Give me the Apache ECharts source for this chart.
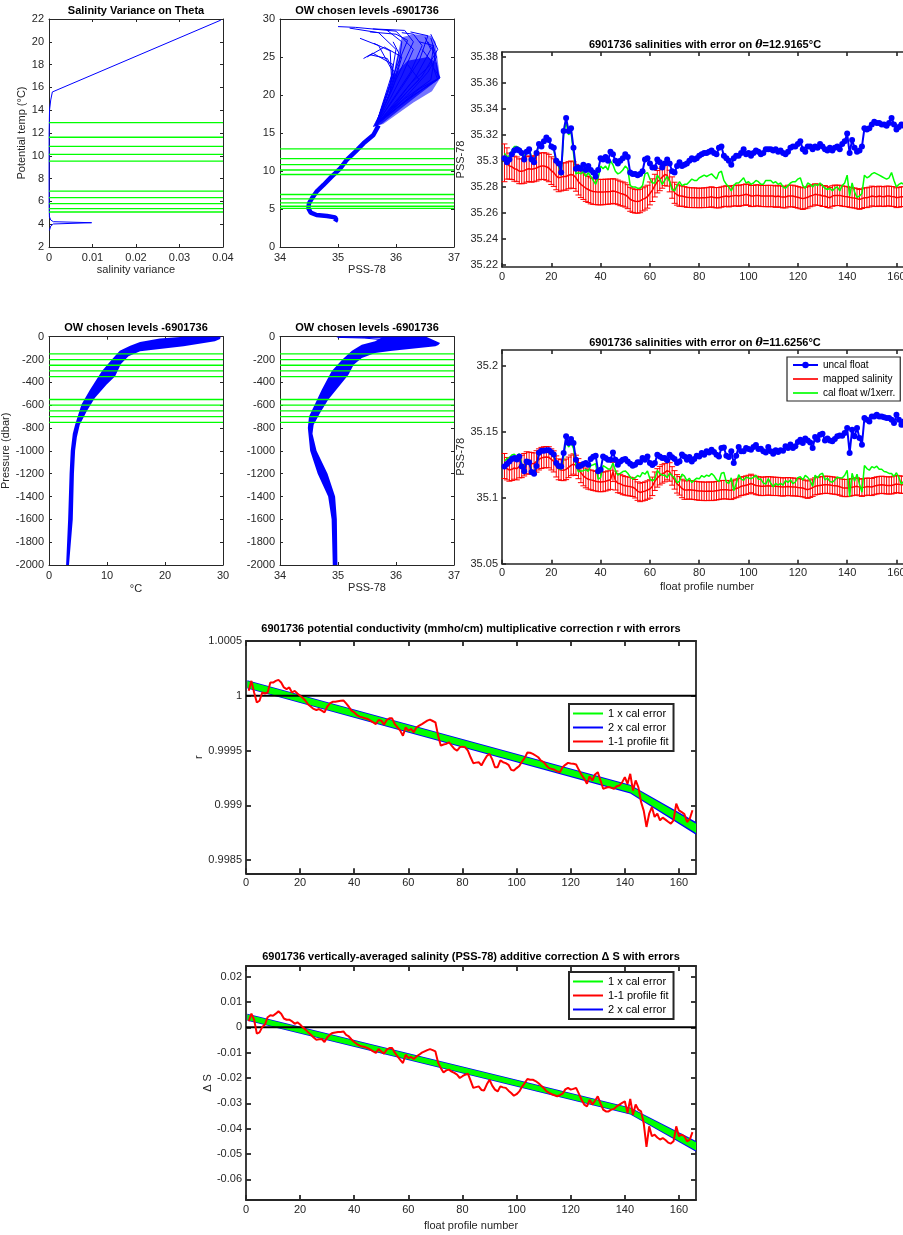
<!DOCTYPE html>
<html><head><meta charset="utf-8">
<script src="https://cdn.jsdelivr.net/npm/echarts@6/dist/echarts.min.js"></script>
<style>html,body{margin:0;padding:0;background:#fff}#c{width:903px;height:1235px}</style>
</head><body><div id="c"></div>
<script>
// ================= DATA =================
const thetaLevels = [12.9165, 11.6256, 10.83, 10.13, 9.54, 6.91, 6.33, 5.80, 5.36, 5.07];
const pressureLevels = [-150, -200, -250, -300, -350, -550, -600, -650, -700, -750];

// Panel 1: salinity variance vs potential temperature
const varianceValues = [0.0395, 0.00077, 0.0004, 0.00012, 0.00003, 0.00002, 0.00003, 0.0001, 0.0004, 0.001, 0.0098, 0.001, 0.0004, 0.0001];
const varianceTheta  = [21.9, 15.6, 14.9, 14.0, 12.0, 8.0, 5.5, 4.66, 4.37, 4.22, 4.13, 4.02, 3.84, 3.45];

// Panel 2: theta-S (salinity, theta)
const tsDeepCurve = [[34.95,3.33],[34.97,3.6],[34.95,3.9],[34.81,4.08],[34.63,4.21],[34.53,4.52],[34.49,5.09],[34.50,5.75],[34.55,6.4],[34.63,7.28],[34.75,8.16],[34.89,9.25],[35.04,10.35],[35.15,11.45],[35.30,12.55],[35.44,13.64],[35.61,14.74],[35.70,16.0]];
const tsFanCore = [[35.6,15.8],[35.75,16.2],[36.3,19.5],[36.76,22.2],[36.7,24.2],[36.55,25.0],[36.2,24.5],[35.95,22.5],[35.85,19.5]];
const tsFanOuter = [[35.6,15.8],[35.78,16.2],[36.3,19.0],[36.62,20.5],[36.76,22.2],[36.72,24.5],[36.68,27.0],[36.6,27.8],[36.3,28.0],[36.1,27.6],[36.0,24.5],[35.93,21.5],[35.82,19.0]];
const tsFanProfiles = [
  [[35.65,16.0],[36.05,18.5],[36.5,21.0],[36.73,22.2],[36.7,24.0],[36.62,26.5]],
  [[35.65,16.0],[36.15,19.5],[36.6,22.0],[36.68,25.5],[36.6,27.5]],
  [[35.65,16.0],[36.0,19.0],[36.35,22.5],[36.6,26.0],[36.5,27.6]],
  [[35.65,16.0],[35.95,19.5],[36.25,23.0],[36.45,26.5],[36.3,28.0],[36.1,28.2]],
  [[35.65,16.0],[35.9,19.5],[36.1,22.5],[36.3,26.0],[36.0,28.4],[35.3,28.9],[35.0,29.0]],
  [[35.65,16.0],[35.88,20.0],[36.05,24.0],[36.1,27.0],[35.84,28.55]],
  [[35.65,16.0],[35.9,20.5],[35.95,24.0],[35.6,25.5],[35.44,24.8]],
  [[35.65,16.0],[35.85,20.0],[35.95,23.0],[35.7,26.5],[35.38,27.46]],
  [[35.65,16.0],[35.95,21.0],[36.1,25.0],[35.8,26.3],[35.5,25.0]],
  [[35.65,16.0],[36.2,20.0],[36.55,23.0],[36.7,25.0],[36.55,27.0]],
  [[35.65,16.0],[36.3,20.0],[36.72,22.0],[36.6,24.5],[36.45,26.0]],
  [[35.65,16.0],[36.1,21.0],[36.4,24.5],[36.55,27.8],[36.25,28.3]],
  [[35.65,16.0],[35.92,18.0],[36.2,20.5],[36.4,22.0],[36.2,24.0]],
  [[35.65,16.0],[35.9,21.5],[36.0,26.0],[35.7,28.2],[35.2,28.8]],
  [[35.65,16.0],[36.0,22.0],[36.3,27.0],[36.15,28.5],[35.6,28.7]],
  [[35.65,16.0],[36.4,20.8],[36.76,22.3],[36.65,23.5]],
  [[35.65,16.0],[35.95,22.0],[36.05,25.5],[35.95,27.0]],
  [[35.65,16.0],[36.25,21.5],[36.6,24.0],[36.65,26.5],[36.4,27.0]],
  [[35.65,16.0],[35.92,22.5],[35.9,25.8],[35.62,26.8]],
  [[35.65,16.0],[36.0,23.5],[36.2,27.2],[36.0,28.0],[35.55,28.3]],
  [[35.65,16.0],[36.45,22.5],[36.72,26.0],[36.6,28.0]],
  [[35.65,16.0],[35.97,23.0],[35.85,24.8],[35.55,25.3]]
];

// Panel 4: temperature vs pressure envelope of all profiles
const ptBand = [[2.95,-2000],[3.3,-1600],[3.55,-1200],[3.75,-1000],[4.1,-850],[4.5,-771],[5.6,-595],[7.07,-464],[9.1,-303],[10.8,-201],[12.2,-122],[14.0,-80],[15.7,-46],[19.1,-15],[23.2,0],[29.6,0],[29.5,-20],[28.6,-40],[23.2,-84],[15.7,-128],[13.7,-172],[12.4,-240],[11.4,-347],[9.9,-420],[7.9,-537],[6.5,-654],[5.3,-771],[4.8,-880],[4.5,-1000],[4.3,-1200],[4.1,-1600],[3.45,-2000]];

// Panel 5: salinity vs pressure envelope
const psBand = [[34.91,-2000],[34.89,-1600],[34.83,-1400],[34.65,-1200],[34.52,-1000],[34.48,-800],[34.5,-700],[34.6,-595],[34.72,-464],[34.89,-303],[35.07,-201],[35.24,-122],[35.41,-70],[35.64,-40],[35.78,0],[36.52,0],[36.76,-55],[36.73,-72],[36.68,-84],[35.9,-125],[35.64,-143],[35.41,-187],[35.27,-245],[35.18,-333],[35.04,-420],[34.83,-552],[34.69,-668],[34.58,-771],[34.56,-850],[34.63,-1000],[34.82,-1200],[34.95,-1400],[34.98,-1600],[34.99,-2000]];
const psSurfaceLines = [
  [[34.98,-3],[35.4,-5],[35.85,-12]],
  [[35.0,-6],[35.45,-12],[35.75,-25]],
  [[35.05,-1],[35.6,-3],[35.9,-8]]
];

// Panel 3: theta = 12.9165
const uncal3 = [35.302,35.299,35.301,35.305,35.308,35.309,35.308,35.306,35.301,35.307,
35.309,35.301,35.299,35.306,35.313,35.311,35.315,35.318,35.316,35.311,
35.310,35.300,35.298,35.291,35.323,35.333,35.323,35.325,35.310,35.294,
35.295,35.294,35.297,35.293,35.296,35.293,35.291,35.288,35.293,35.302,
35.301,35.303,35.300,35.307,35.305,35.300,35.298,35.300,35.302,35.305,
35.303,35.291,35.290,35.290,35.289,35.290,35.292,35.301,35.302,35.298,
35.295,35.295,35.301,35.299,35.295,35.298,35.301,35.298,35.292,35.291,
35.296,35.299,35.296,35.297,35.298,35.300,35.302,35.301,35.302,35.304,
35.305,35.306,35.306,35.307,35.308,35.306,35.305,35.310,35.311,35.304,
35.302,35.300,35.297,35.302,35.304,35.304,35.306,35.309,35.305,35.306,
35.304,35.306,35.308,35.307,35.305,35.306,35.309,35.309,35.309,35.308,
35.309,35.307,35.308,35.306,35.305,35.307,35.310,35.311,35.311,35.313,
35.315,35.309,35.307,35.311,35.311,35.309,35.311,35.310,35.313,35.311,
35.309,35.308,35.310,35.308,35.310,35.311,35.309,35.313,35.315,35.321,
35.306,35.316,35.310,35.307,35.308,35.311,35.325,35.324,35.325,35.328,
35.330,35.329,35.329,35.328,35.328,35.327,35.329,35.333,35.328,35.324,
35.326,35.328,35.327,35.329,35.328];
const cal3 = [35.306,35.303,35.304,35.308,35.311,35.311,35.310,35.308,35.303,35.308,
35.310,35.302,35.300,35.306,35.313,35.311,35.315,35.317,35.315,35.310,
35.309,35.298,35.296,35.289,35.320,35.330,35.320,35.322,35.306,35.290,
35.291,35.290,35.292,35.288,35.291,35.288,35.285,35.282,35.287,35.296,
35.294,35.296,35.293,35.300,35.297,35.292,35.290,35.291,35.293,35.296,
35.294,35.281,35.280,35.280,35.279,35.279,35.281,35.290,35.291,35.286,
35.283,35.283,35.289,35.286,35.282,35.285,35.288,35.284,35.278,35.277,
35.281,35.284,35.281,35.282,35.282,35.284,35.286,35.285,35.285,35.287,
35.288,35.289,35.288,35.289,35.290,35.288,35.286,35.291,35.292,35.285,
35.282,35.280,35.277,35.281,35.283,35.283,35.285,35.287,35.283,35.284,
35.282,35.283,35.285,35.284,35.282,35.282,35.285,35.285,35.285,35.283,
35.284,35.282,35.283,35.280,35.279,35.281,35.283,35.284,35.284,35.286,
35.287,35.281,35.279,35.283,35.282,35.280,35.282,35.281,35.283,35.281,
35.279,35.278,35.279,35.277,35.279,35.280,35.277,35.281,35.283,35.289,
35.273,35.283,35.276,35.272,35.273,35.275,35.289,35.287,35.288,35.290,
35.291,35.290,35.289,35.288,35.287,35.286,35.287,35.291,35.285,35.280,
35.282,35.283,35.282,35.283,35.282];
const mapped3 = [35.2985,35.298,35.296,35.2955,35.294,35.2935,35.292,35.292,35.2925,35.2935,
35.294,35.2935,35.294,35.2945,35.2955,35.296,35.296,35.2955,35.2945,35.2925,
35.291,35.2885,35.287,35.2875,35.288,35.288,35.289,35.2895,35.289,35.287,
35.284,35.282,35.2805,35.279,35.278,35.277,35.2765,35.2763,35.276,35.276,
35.276,35.2763,35.2763,35.2765,35.2768,35.2765,35.2758,35.275,35.2745,35.2738,
35.2725,35.2705,35.2695,35.269,35.2688,35.2692,35.2704,35.2712,35.2725,35.275,
35.2775,35.281,35.284,35.2857,35.2875,35.2895,35.289,35.2845,35.2795,35.2755,
35.274,35.273,35.273,35.2725,35.272,35.2718,35.2717,35.2717,35.2716,35.2715,
35.2716,35.2717,35.2718,35.272,35.2724,35.2718,35.2717,35.2717,35.2722,35.2727,
35.273,35.2725,35.273,35.2732,35.2735,35.273,35.2735,35.2738,35.2743,35.2738,
35.273,35.273,35.2735,35.2735,35.273,35.273,35.273,35.273,35.273,35.273,
35.2725,35.273,35.2725,35.2722,35.2722,35.273,35.273,35.273,35.2725,35.272,
35.2715,35.271,35.2715,35.272,35.273,35.2735,35.2743,35.274,35.2738,35.273,
35.273,35.2722,35.2717,35.273,35.2735,35.2735,35.2735,35.273,35.2727,35.2725,
35.272,35.2717,35.2715,35.271,35.2704,35.271,35.2717,35.2717,35.2722,35.273,
35.2727,35.2725,35.273,35.2727,35.2725,35.273,35.273,35.2727,35.2725,35.2717,
35.272,35.2725,35.2725,35.273,35.273];
const mappedErr3 = [0.0145,0.0120,0.0100,0.0098,0.0096,0.0095,0.0095,0.0096,0.0097,0.0098,
0.0098,0.0099,0.0100,0.0100,0.0101,0.0102,0.0103,0.0104,0.0105,0.0106,
0.0106,0.0107,0.0107,0.0106,0.0105,0.0105,0.0104,0.0104,0.0103,0.0103,
0.0102,0.0102,0.0101,0.0101,0.0100,0.0100,0.0099,0.0099,0.0098,0.0098,
0.0097,0.0097,0.0096,0.0096,0.0095,0.0095,0.0094,0.0094,0.0093,0.0093,
0.0092,0.0092,0.0091,0.0091,0.0090,0.0090,0.0089,0.0089,0.0088,0.0088,
0.0087,0.0087,0.0086,0.0086,0.0085,0.0085,0.0084,0.0083,0.0082,0.0081,
0.0080,0.0079,0.0078,0.0077,0.0077,0.0076,0.0076,0.0076,0.0075,0.0075,
0.0075,0.0076,0.0076,0.0077,0.0077,0.0077,0.0078,0.0078,0.0078,0.0078,
0.0079,0.0079,0.0079,0.0079,0.0080,0.0080,0.0080,0.0080,0.0080,0.0080,
0.0081,0.0081,0.0081,0.0081,0.0081,0.0081,0.0082,0.0082,0.0082,0.0082,
0.0082,0.0082,0.0082,0.0083,0.0083,0.0083,0.0083,0.0083,0.0083,0.0083,
0.0083,0.0083,0.0082,0.0082,0.0082,0.0082,0.0081,0.0081,0.0081,0.0080,
0.0080,0.0080,0.0079,0.0079,0.0079,0.0078,0.0078,0.0078,0.0078,0.0077,
0.0077,0.0077,0.0077,0.0077,0.0076,0.0076,0.0076,0.0076,0.0076,0.0076,
0.0076,0.0076,0.0076,0.0076,0.0076,0.0076,0.0076,0.0076,0.0076,0.0076,
0.0076,0.0076,0.0076,0.0076,0.0076];

// Panel 6: theta = 11.6256
const uncal6 = [35.1237,35.1255,35.1275,35.1293,35.1300,35.1290,35.1313,35.1237,35.1200,35.1275,
35.1268,35.1195,35.1182,35.1240,35.1340,35.1355,35.1356,35.1359,35.1359,35.1345,
35.1328,35.1263,35.1240,35.1237,35.1338,35.1465,35.1414,35.1444,35.1414,35.1288,
35.1237,35.1242,35.1255,35.1263,35.1250,35.1293,35.1310,35.1318,35.1200,35.1212,
35.1313,35.1301,35.1288,35.1288,35.1343,35.1288,35.1250,35.1275,35.1288,35.1293,
35.1275,35.1258,35.1242,35.1250,35.1268,35.1268,35.1301,35.1288,35.1313,35.1263,
35.1247,35.1263,35.1326,35.1313,35.1301,35.1301,35.1283,35.1326,35.1306,35.1293,
35.1263,35.1275,35.1328,35.1313,35.1288,35.1308,35.1275,35.1293,35.1318,35.1313,
35.1338,35.1326,35.1351,35.1343,35.1364,35.1346,35.1326,35.1313,35.1376,35.1381,
35.1318,35.1308,35.1351,35.1263,35.1318,35.1384,35.1351,35.1351,35.1376,35.1369,
35.1364,35.1384,35.1399,35.1369,35.1371,35.1351,35.1343,35.1384,35.1351,35.1333,
35.1359,35.1346,35.1359,35.1356,35.1389,35.1376,35.1404,35.1376,35.1389,35.1422,
35.1439,35.1414,35.1449,35.1434,35.1419,35.1376,35.1460,35.1439,35.1477,35.1485,
35.1434,35.1449,35.1434,35.1427,35.1444,35.1465,35.1472,35.1470,35.1490,35.1528,
35.1338,35.1515,35.1465,35.1528,35.1452,35.1402,35.1604,35.1591,35.1578,35.1616,
35.1616,35.1629,35.1616,35.1616,35.1609,35.1604,35.1604,35.1591,35.1566,35.1629,
35.1591,35.1553,35.1578,35.1590,35.1580];
const cal6 = [35.1277,35.1295,35.1305,35.1323,35.1330,35.1310,35.1333,35.1257,35.1220,35.1285,
35.1278,35.1205,35.1192,35.1240,35.1340,35.1355,35.1356,35.1349,35.1349,35.1335,
35.1318,35.1243,35.1220,35.1217,35.1308,35.1435,35.1384,35.1414,35.1374,35.1248,
35.1197,35.1202,35.1205,35.1213,35.1200,35.1243,35.1250,35.1258,35.1140,35.1152,
35.1243,35.1231,35.1218,35.1218,35.1263,35.1208,35.1170,35.1185,35.1198,35.1203,
35.1185,35.1158,35.1142,35.1150,35.1168,35.1158,35.1191,35.1178,35.1203,35.1143,
35.1127,35.1143,35.1206,35.1183,35.1171,35.1171,35.1153,35.1186,35.1166,35.1153,
35.1113,35.1125,35.1178,35.1163,35.1128,35.1148,35.1115,35.1133,35.1148,35.1143,
35.1168,35.1156,35.1171,35.1163,35.1184,35.1166,35.1136,35.1123,35.1186,35.1191,
35.1118,35.1108,35.1151,35.1053,35.1108,35.1174,35.1141,35.1131,35.1156,35.1149,
35.1144,35.1154,35.1169,35.1139,35.1141,35.1111,35.1103,35.1144,35.1111,35.1083,
35.1109,35.1096,35.1109,35.1096,35.1129,35.1116,35.1134,35.1106,35.1119,35.1152,
35.1159,35.1134,35.1169,35.1154,35.1129,35.1086,35.1170,35.1149,35.1177,35.1185,
35.1134,35.1149,35.1124,35.1117,35.1134,35.1155,35.1152,35.1150,35.1170,35.1208,
35.1008,35.1185,35.1125,35.1178,35.1102,35.1042,35.1244,35.1221,35.1208,35.1236,
35.1226,35.1239,35.1216,35.1216,35.1199,35.1194,35.1184,35.1184,35.1161,35.1189,
35.1151,35.1103,35.1128,35.1130,35.1120];
const mapped6 = [35.124,35.122,35.121,35.1215,35.1225,35.122,35.1235,35.1237,35.125,35.1263,
35.1263,35.126,35.1258,35.1275,35.129,35.1301,35.1306,35.1308,35.1306,35.129,
35.1275,35.1237,35.1215,35.121,35.1207,35.1215,35.123,35.1245,35.1255,35.1245,
35.122,35.119,35.1165,35.115,35.114,35.1135,35.113,35.1125,35.112,35.1119,
35.112,35.1124,35.113,35.1136,35.1195,35.113,35.111,35.1105,35.1095,35.109,
35.1086,35.1084,35.108,35.1068,35.105,35.104,35.1045,35.105,35.1058,35.1066,
35.1086,35.1125,35.115,35.1167,35.118,35.119,35.1205,35.1195,35.1165,35.1135,
35.1105,35.109,35.107,35.1058,35.1058,35.106,35.1058,35.1056,35.1053,35.105,
35.105,35.1048,35.1048,35.105,35.1048,35.105,35.1053,35.1056,35.106,35.1061,
35.1061,35.1058,35.1056,35.1063,35.107,35.1076,35.1086,35.109,35.1095,35.11,
35.1108,35.11,35.1093,35.109,35.1086,35.1086,35.1088,35.109,35.1088,35.1086,
35.1086,35.1085,35.1083,35.1081,35.1083,35.1085,35.1083,35.1081,35.1081,35.1078,
35.1076,35.1073,35.1066,35.1061,35.1068,35.1076,35.1086,35.109,35.1093,35.1096,
35.1098,35.1098,35.1096,35.1093,35.1091,35.1088,35.1083,35.1076,35.1073,35.1073,
35.1076,35.108,35.1083,35.1086,35.108,35.1075,35.108,35.1084,35.1083,35.1081,
35.1088,35.1093,35.1096,35.1098,35.1096,35.1093,35.1093,35.1093,35.1098,35.1104,
35.1101,35.1098,35.1098,35.1098,35.1098];
const mappedErr6 = [0.0095,0.0085,0.0085,0.0085,0.0085,0.0085,0.0085,0.0085,0.0085,0.0085,
0.0082,0.0082,0.0081,0.0081,0.0080,0.0080,0.0080,0.0080,0.0080,0.0080,
0.0080,0.0080,0.0079,0.0079,0.0078,0.0078,0.0078,0.0078,0.0077,0.0077,
0.0076,0.0076,0.0075,0.0075,0.0075,0.0075,0.0075,0.0074,0.0074,0.0074,
0.0074,0.0073,0.0073,0.0073,0.0073,0.0072,0.0072,0.0072,0.0072,0.0071,
0.0071,0.0071,0.0071,0.0070,0.0070,0.0070,0.0070,0.0070,0.0070,0.0070,
0.0070,0.0070,0.0070,0.0070,0.0070,0.0070,0.0070,0.0070,0.0070,0.0070,
0.0070,0.0070,0.0070,0.0070,0.0070,0.0070,0.0070,0.0070,0.0070,0.0070,
0.0070,0.0070,0.0070,0.0070,0.0070,0.0070,0.0070,0.0070,0.0070,0.0070,
0.0070,0.0070,0.0070,0.0070,0.0070,0.0070,0.0070,0.0070,0.0070,0.0070,
0.0070,0.0070,0.0070,0.0070,0.0070,0.0070,0.0070,0.0070,0.0070,0.0070,
0.0069,0.0069,0.0069,0.0069,0.0068,0.0068,0.0068,0.0068,0.0067,0.0067,
0.0067,0.0067,0.0066,0.0066,0.0066,0.0066,0.0065,0.0065,0.0065,0.0065,
0.0065,0.0065,0.0065,0.0065,0.0065,0.0065,0.0065,0.0065,0.0065,0.0065,
0.0065,0.0065,0.0065,0.0065,0.0065,0.0065,0.0065,0.0065,0.0065,0.0065,
0.0065,0.0065,0.0065,0.0065,0.0065,0.0065,0.0065,0.0065,0.0065,0.0065,
0.0065,0.0065,0.0065,0.0065,0.0065];

// Panel 7: multiplicative correction r
const rProfileFit = [1.000045,1.000136,1.000030,0.999939,0.999955,1.000030,1.000021,1.000030,1.000121,1.000121,
1.000136,1.000145,1.000121,1.000076,1.000061,1.000076,1.000030,1.000045,1.000021,1.000000,
0.999980,0.999955,0.999920,0.999900,0.999880,0.999870,0.999879,0.999864,0.999848,0.999900,
0.999930,0.999945,0.999945,0.999950,0.999955,0.999958,0.999930,0.999900,0.999864,0.999848,
0.999824,0.999810,0.999803,0.999795,0.999788,0.999773,0.999758,0.999742,0.999779,0.999773,
0.999735,0.999779,0.999794,0.999794,0.999742,0.999712,0.999682,0.999636,0.999712,0.999682,
0.999697,0.999667,0.999712,0.999727,0.999742,0.999758,0.999773,0.999782,0.999770,0.999758,
0.999636,0.999545,0.999555,0.999561,0.999576,0.999545,0.999515,0.999500,0.999530,0.999536,
0.999530,0.999500,0.999439,0.999385,0.999390,0.999394,0.999364,0.999409,0.999450,0.999470,
0.999420,0.999348,0.999348,0.999410,0.999394,0.999385,0.999370,0.999324,0.999318,0.999340,
0.999360,0.999400,0.999433,0.999482,0.999480,0.999470,0.999455,0.999439,0.999409,0.999394,
0.999364,0.999340,0.999333,0.999325,0.999310,0.999303,0.999348,0.999370,0.999388,0.999382,
0.999379,0.999373,0.999324,0.999280,0.999242,0.999197,0.999264,0.999227,0.999282,0.999303,
0.999227,0.999152,0.999160,0.999167,0.999160,0.999152,0.999175,0.999182,0.999210,0.999258,
0.999197,0.999288,0.999136,0.999227,0.999167,0.999030,0.998950,0.998803,0.998924,0.998985,
0.998894,0.998924,0.998864,0.998888,0.998870,0.998850,0.998833,0.998864,0.999015,0.998955,
0.998939,0.998920,0.998848,0.998879,0.998955];
const rCalProfiles = [0.5, 142, 166.3];
const rCalFit = [1.000104, 0.999149, 0.998790];
const rCalErr1 = [0.000030, 0.000030, 0.000042];
const rCalErr2 = [0.000038, 0.000040, 0.000058];
const rReference = 1;

// Panel 8: additive correction delta S
const dsProfileFit = [0.0024,0.0054,0.0030,-0.0025,-0.0020,0.0001,0.0011,0.0040,0.0048,0.0046,
0.0054,0.0063,0.0054,0.0035,0.0030,0.0030,0.0024,0.0014,0.0020,0.0011,
0.0000,-0.0009,-0.0020,-0.0029,-0.0040,-0.0049,-0.0047,-0.0046,-0.0058,-0.0040,
-0.0029,-0.0022,-0.0020,-0.0018,-0.0018,-0.0016,-0.0030,-0.0036,-0.0048,-0.0058,
-0.0066,-0.0072,-0.0076,-0.0078,-0.0082,-0.0088,-0.0095,-0.0101,-0.0086,-0.0095,
-0.0104,-0.0088,-0.0082,-0.0082,-0.0100,-0.0115,-0.0128,-0.0141,-0.0108,-0.0121,
-0.0117,-0.0125,-0.0115,-0.0108,-0.0100,-0.0095,-0.0090,-0.0086,-0.0090,-0.0095,
-0.0140,-0.0161,-0.0178,-0.0170,-0.0167,-0.0175,-0.0180,-0.0187,-0.0200,-0.0193,
-0.0187,-0.0183,-0.0210,-0.0239,-0.0236,-0.0233,-0.0247,-0.0249,-0.0225,-0.0207,
-0.0230,-0.0246,-0.0253,-0.0233,-0.0237,-0.0239,-0.0250,-0.0259,-0.0270,-0.0264,
-0.0253,-0.0235,-0.0220,-0.0204,-0.0207,-0.0207,-0.0212,-0.0220,-0.0230,-0.0239,
-0.0252,-0.0259,-0.0264,-0.0268,-0.0272,-0.0268,-0.0262,-0.0245,-0.0239,-0.0246,
-0.0243,-0.0239,-0.0262,-0.0286,-0.0305,-0.0312,-0.0286,-0.0305,-0.0290,-0.0272,
-0.0300,-0.0325,-0.0332,-0.0332,-0.0325,-0.0322,-0.0312,-0.0305,-0.0298,-0.0292,
-0.0338,-0.0283,-0.0345,-0.0305,-0.0325,-0.0332,-0.0380,-0.0472,-0.0391,-0.0430,
-0.0424,-0.0435,-0.0443,-0.0437,-0.0445,-0.0455,-0.0459,-0.0450,-0.0391,-0.0430,
-0.0424,-0.0430,-0.0450,-0.0443,-0.0414];
const dsCalProfiles = [0.5, 142, 166.3];
const dsCalFit = [0.0040, -0.0330, -0.0470];
const dsCalErr1 = [0.0011, 0.0011, 0.0016];
const dsCalErr2 = [0.0014, 0.0014, 0.0021];
const dsReference = 0;

// Tick labels
const ticksVariance = [0, 0.01, 0.02, 0.03, 0.04];
const ticksTheta1 = [2, 4, 6, 8, 10, 12, 14, 16, 18, 20, 22];
const ticksSal = [34, 35, 36, 37];
const ticksTheta2 = [0, 5, 10, 15, 20, 25, 30];
const ticksTemp = [0, 10, 20, 30];
const ticksPres = [-2000, -1800, -1600, -1400, -1200, -1000, -800, -600, -400, -200, 0];
const ticksProfile = [0, 20, 40, 60, 80, 100, 120, 140, 160];
const ticksS3 = [35.22, 35.24, 35.26, 35.28, 35.3, 35.32, 35.34, 35.36, 35.38];
const ticksS6 = [35.05, 35.1, 35.15, 35.2];
const ticksR = [0.9985, 0.999, 0.9995, 1, 1.0005];
const ticksDS = [-0.06, -0.05, -0.04, -0.03, -0.02, -0.01, 0, 0.01, 0.02];

// Axis limits (frame extents)
const limVariance = [0, 0.04], limTheta1 = [2, 22];
const limSal = [34, 37], limTheta2 = [0, 30];
const limTemp = [0, 30], limPres = [-2000, 0];
const limProfile = [0, 166.3];
const limS3 = [35.2185, 35.3836];
const limS6 = [35.05, 35.2119];
const limR = [0.99838, 1.0005];
const limDS = [-0.06817, 0.02422];

// ================= BUILD =================
const FONT = '"Liberation Sans", Arial, Helvetica, sans-serif';
const AX = '#262626';
const BLUE = '#0000ff', GREEN = '#00ff00', RED = '#ff0000';
const LINE_ICON = 'path://M0,0H30V2H0Z';
const option = { animation: false, backgroundColor: '#ffffff', grid: [], xAxis: [], yAxis: [], series: [], legend: [], graphic: [] };

function fmt(v) { return String(parseFloat(Number(v).toFixed(6))); }

function axisDef(g, lim, ticks, pos, showLabel, name, gap, lw, tl, margin) {
  return {
    gridIndex: g, type: 'value', position: pos, min: lim[0], max: lim[1],
    name: name || '', nameLocation: 'middle', nameGap: gap || 0,
    nameTextStyle: { fontSize: 11, fontFamily: FONT, color: AX },
    axisLine: { show: true, onZero: false, lineStyle: { color: AX, width: lw } },
    axisTick: { show: true, inside: true, length: tl, customValues: ticks, lineStyle: { color: AX, width: lw } },
    axisLabel: { show: showLabel, customValues: ticks, formatter: fmt, fontSize: 11, fontFamily: FONT, color: AX, margin: margin || 4 },
    splitLine: { show: false }, minorTick: { show: false }, minorSplitLine: { show: false }
  };
}

function panel(p) {
  const g = option.grid.length;
  option.grid.push({ left: p.l, top: p.t, width: p.w, height: p.h, show: false, containLabel: false, outerBoundsMode: 'none' });
  const lw = p.lw || 1, tl = p.tl || 3;
  const xi = option.xAxis.length;
  option.xAxis.push(axisDef(g, p.xl, p.xt, 'bottom', true, p.xName, p.xGap, lw, tl, p.xm || 5));
  option.xAxis.push(axisDef(g, p.xl, p.xt, 'top', false, '', 0, lw, tl));
  const yi = option.yAxis.length;
  option.yAxis.push(axisDef(g, p.yl, p.yt, 'left', true, p.yName, p.yGap, lw, tl, p.ym || 5));
  option.yAxis.push(axisDef(g, p.yl, p.yt, 'right', false, '', 0, lw, tl));
  option.graphic.push({ type: 'text', x: p.tx, y: p.ty, silent: true, style: {
    text: p.title, align: 'center', verticalAlign: 'middle', fill: '#000', fontSize: 11, fontWeight: 'bold', fontFamily: FONT,
    rich: { i: { fontStyle: 'italic', fontWeight: 'bold', fontSize: 11, fontFamily: '"DejaVu Serif", serif', fill: '#000' } } } });
  return { xAxisIndex: xi, yAxisIndex: yi };
}

function line(ax, data, color, width, extra) {
  return Object.assign({ type: 'line', xAxisIndex: ax.xAxisIndex, yAxisIndex: ax.yAxisIndex, data: data,
    symbol: 'none', showSymbol: false, silent: true, lineStyle: { color: color, width: width }, itemStyle: { color: color } }, extra || {});
}

function polygon(ax, pts, fill) {
  return { type: 'custom', xAxisIndex: ax.xAxisIndex, yAxisIndex: ax.yAxisIndex, data: pts, silent: true,
    encode: { x: 0, y: 1 },
    renderItem: function (params, api) {
      if (params.dataIndex !== 0) return null;
      return { type: 'polygon', shape: { points: pts.map(function (p) { return api.coord(p); }) }, style: { fill: fill } };
    } };
}

function band(ax, xs, mid, err, fill) {
  const upper = xs.map(function (x, i) { return [x, mid[i] + err[i]]; });
  const lower = xs.map(function (x, i) { return [x, mid[i] - err[i]]; }).reverse();
  return polygon(ax, upper.concat(lower), fill);
}

function errorbars(ax, vals, errs, color, cap) {
  const data = vals.map(function (v, i) { return [i + 1, v, errs[i]]; });
  return { type: 'custom', xAxisIndex: ax.xAxisIndex, yAxisIndex: ax.yAxisIndex, data: data, silent: true,
    encode: { x: 0, y: 1 },
    renderItem: function (params, api) {
      const x = api.value(0), y = api.value(1), e = api.value(2);
      const a = api.coord([x, y + e]), b = api.coord([x, y - e]);
      return { type: 'group', children: [
        { type: 'line', shape: { x1: a[0], y1: a[1], x2: b[0], y2: b[1] }, style: { stroke: color, lineWidth: 1 } },
        { type: 'line', shape: { x1: a[0] - cap, y1: a[1], x2: a[0] + cap, y2: a[1] }, style: { stroke: color, lineWidth: 1 } },
        { type: 'line', shape: { x1: b[0] - cap, y1: b[1], x2: b[0] + cap, y2: b[1] }, style: { stroke: color, lineWidth: 1 } }
      ] };
    } };
}

function indexed(vals) { return vals.map(function (v, i) { return [i + 1, v]; }); }
function levelLines(ax, levels, xl) {
  levels.forEach(function (lv) {
    option.series.push(line(ax, [[xl[0], lv], [xl[1], lv]], GREEN, 1.3));
  });
}

// ---- Panel 1 ----
const a1 = panel({ l: 49, t: 19, w: 174, h: 228, xl: limVariance, yl: limTheta1, xt: ticksVariance, yt: ticksTheta1,
  xName: 'salinity variance', xGap: 17, yName: 'Potential temp (°C)', yGap: 15, tx: 136, ty: 11, title: 'Salinity Variance on Theta' });
option.series.push(line(a1, varianceValues.map(function (v, i) { return [v, varianceTheta[i]]; }), BLUE, 1));
levelLines(a1, thetaLevels, limVariance);

// ---- Panel 2 ----
const a2 = panel({ l: 280, t: 19, w: 174, h: 228, xl: limSal, yl: limTheta2, xt: ticksSal, yt: ticksTheta2,
  xName: 'PSS-78', xGap: 17, tx: 367, ty: 11, title: 'OW chosen levels -6901736' });
option.series.push(polygon(a2, tsFanOuter, 'rgba(0,0,255,0.55)'));
option.series.push(polygon(a2, tsFanCore, 'rgba(0,0,255,0.8)'));
tsFanProfiles.forEach(function (pr) { option.series.push(line(a2, pr, BLUE, 1)); });
option.series.push(line(a2, tsDeepCurve, BLUE, 4.5));
levelLines(a2, thetaLevels, limSal);

// ---- Panel 3 ----
const a3 = panel({ l: 502, t: 52, w: 410, h: 215, xl: limProfile, yl: limS3, xt: ticksProfile, yt: ticksS3,
  yName: 'PSS-78', yGap: 29, lw: 1.6, tl: 4, xm: 4, ym: 4, tx: 705, ty: 45,
  title: '6901736 salinities with error on {i|θ}=12.9165°C' });
option.series.push(errorbars(a3, mapped3, mappedErr3, RED, 3));
option.series.push(line(a3, indexed(mapped3), RED, 1.5, { name: 'mapped salinity' }));
option.series.push(line(a3, indexed(cal3), GREEN, 1.5, { name: 'cal float w/1xerr.' }));
option.series.push(line(a3, indexed(uncal3), BLUE, 2, { name: 'uncal float', symbol: 'circle', symbolSize: 6, showSymbol: true }));

// ---- Panel 4 ----
const a4 = panel({ l: 49, t: 336.7, w: 174, h: 228.3, xl: limTemp, yl: limPres, xt: ticksTemp, yt: ticksPres,
  xName: '°C', xGap: 18, yName: 'Pressure (dbar)', yGap: 29, tx: 136, ty: 328, title: 'OW chosen levels -6901736' });
option.series.push(polygon(a4, ptBand, BLUE));
levelLines(a4, pressureLevels, limTemp);

// ---- Panel 5 ----
const a5 = panel({ l: 280, t: 336.7, w: 174, h: 228.3, xl: limSal, yl: limPres, xt: ticksSal, yt: ticksPres,
  xName: 'PSS-78', xGap: 17, tx: 367, ty: 328, title: 'OW chosen levels -6901736' });
option.series.push(polygon(a5, psBand, BLUE));
psSurfaceLines.forEach(function (pr) { option.series.push(line(a5, pr, BLUE, 1)); });
levelLines(a5, pressureLevels, limSal);

// ---- Panel 6 ----
const a6 = panel({ l: 502, t: 350, w: 410, h: 213.7, xl: limProfile, yl: limS6, xt: ticksProfile, yt: ticksS6,
  xName: 'float profile number', xGap: 18, yName: 'PSS-78', yGap: 29, lw: 1.6, tl: 4, xm: 4, ym: 4, tx: 705, ty: 343,
  title: '6901736 salinities with error on {i|θ}=11.6256°C' });
option.series.push(errorbars(a6, mapped6, mappedErr6, RED, 3));
option.series.push(line(a6, indexed(mapped6), RED, 1.5, { name: 'mapped salinity' }));
option.series.push(line(a6, indexed(cal6), GREEN, 1.5, { name: 'cal float w/1xerr.' }));
option.series.push(line(a6, indexed(uncal6), BLUE, 2, { name: 'uncal float', symbol: 'circle', symbolSize: 6, showSymbol: true }));
option.legend.push({ left: 787, top: 357, orient: 'vertical', itemWidth: 25, itemHeight: 8, itemGap: 2, padding: [2, 5, 2, 5],
  borderColor: AX, borderWidth: 1.2, backgroundColor: '#fff', borderRadius: 0,
  textStyle: { fontSize: 10, fontFamily: FONT, color: '#000', lineHeight: 12 },
  data: ['uncal float', { name: 'mapped salinity', icon: LINE_ICON }, { name: 'cal float w/1xerr.', icon: LINE_ICON }] });

// ---- Panel 7 ----
const a7 = panel({ l: 246, t: 641, w: 450, h: 232.3, xl: limProfile, yl: limR, xt: ticksProfile, yt: ticksR,
  yName: 'r', yGap: 42, lw: 1.8, tl: 5, xm: 4, ym: 4, tx: 471, ty: 629,
  title: '6901736 potential conductivity (mmho/cm) multiplicative correction r with errors' });
option.series.push(band(a7, rCalProfiles, rCalFit, rCalErr2, BLUE));
option.series.push(band(a7, rCalProfiles, rCalFit, rCalErr1, GREEN));
option.series.push(line(a7, [[limProfile[0], rReference], [limProfile[1], rReference]], '#000', 2));
option.series.push(line(a7, indexed(rProfileFit), RED, 2, { name: '1-1 profile fit' }));
option.series.push(line(a7, [], GREEN, 2.5, { name: '1 x cal error' }));
option.series.push(line(a7, [], BLUE, 2.5, { name: '2 x cal error' }));
option.legend.push({ left: 569, top: 704, orient: 'vertical', itemWidth: 30, itemHeight: 10, itemGap: 1, padding: [3, 5, 3, 4],
  borderColor: AX, borderWidth: 2, backgroundColor: '#fff', borderRadius: 0,
  textStyle: { fontSize: 11, fontFamily: FONT, color: '#000', lineHeight: 13 },
  data: [{ name: '1 x cal error', icon: LINE_ICON }, { name: '2 x cal error', icon: LINE_ICON }, { name: '1-1 profile fit', icon: LINE_ICON }] });

// ---- Panel 8 ----
const a8 = panel({ l: 246, t: 966, w: 450, h: 234, xl: limProfile, yl: limDS, xt: ticksProfile, yt: ticksDS,
  xName: 'float profile number', xGap: 20, yName: 'Δ S', yGap: 32, lw: 1.8, tl: 5, xm: 4, ym: 4, tx: 471, ty: 957,
  title: '6901736 vertically-averaged salinity (PSS-78) additive correction Δ S with errors' });
option.series.push(band(a8, dsCalProfiles, dsCalFit, dsCalErr2, BLUE));
option.series.push(band(a8, dsCalProfiles, dsCalFit, dsCalErr1, GREEN));
option.series.push(line(a8, [[limProfile[0], dsReference], [limProfile[1], dsReference]], '#000', 2));
option.series.push(line(a8, indexed(dsProfileFit), RED, 2, { name: '1-1 profile fit' }));
option.series.push(line(a8, [], GREEN, 2.5, { name: '1 x cal error' }));
option.series.push(line(a8, [], BLUE, 2.5, { name: '2 x cal error' }));
option.legend.push({ left: 569, top: 972, orient: 'vertical', itemWidth: 30, itemHeight: 10, itemGap: 1, padding: [3, 5, 3, 4],
  borderColor: AX, borderWidth: 2, backgroundColor: '#fff', borderRadius: 0,
  textStyle: { fontSize: 11, fontFamily: FONT, color: '#000', lineHeight: 13 },
  data: [{ name: '1 x cal error', icon: LINE_ICON }, { name: '1-1 profile fit', icon: LINE_ICON }, { name: '2 x cal error', icon: LINE_ICON }] });

const chart = echarts.init(document.getElementById('c'), null, { renderer: 'canvas', width: 903, height: 1235 });
chart.setOption(option);
</script>
</body></html>
